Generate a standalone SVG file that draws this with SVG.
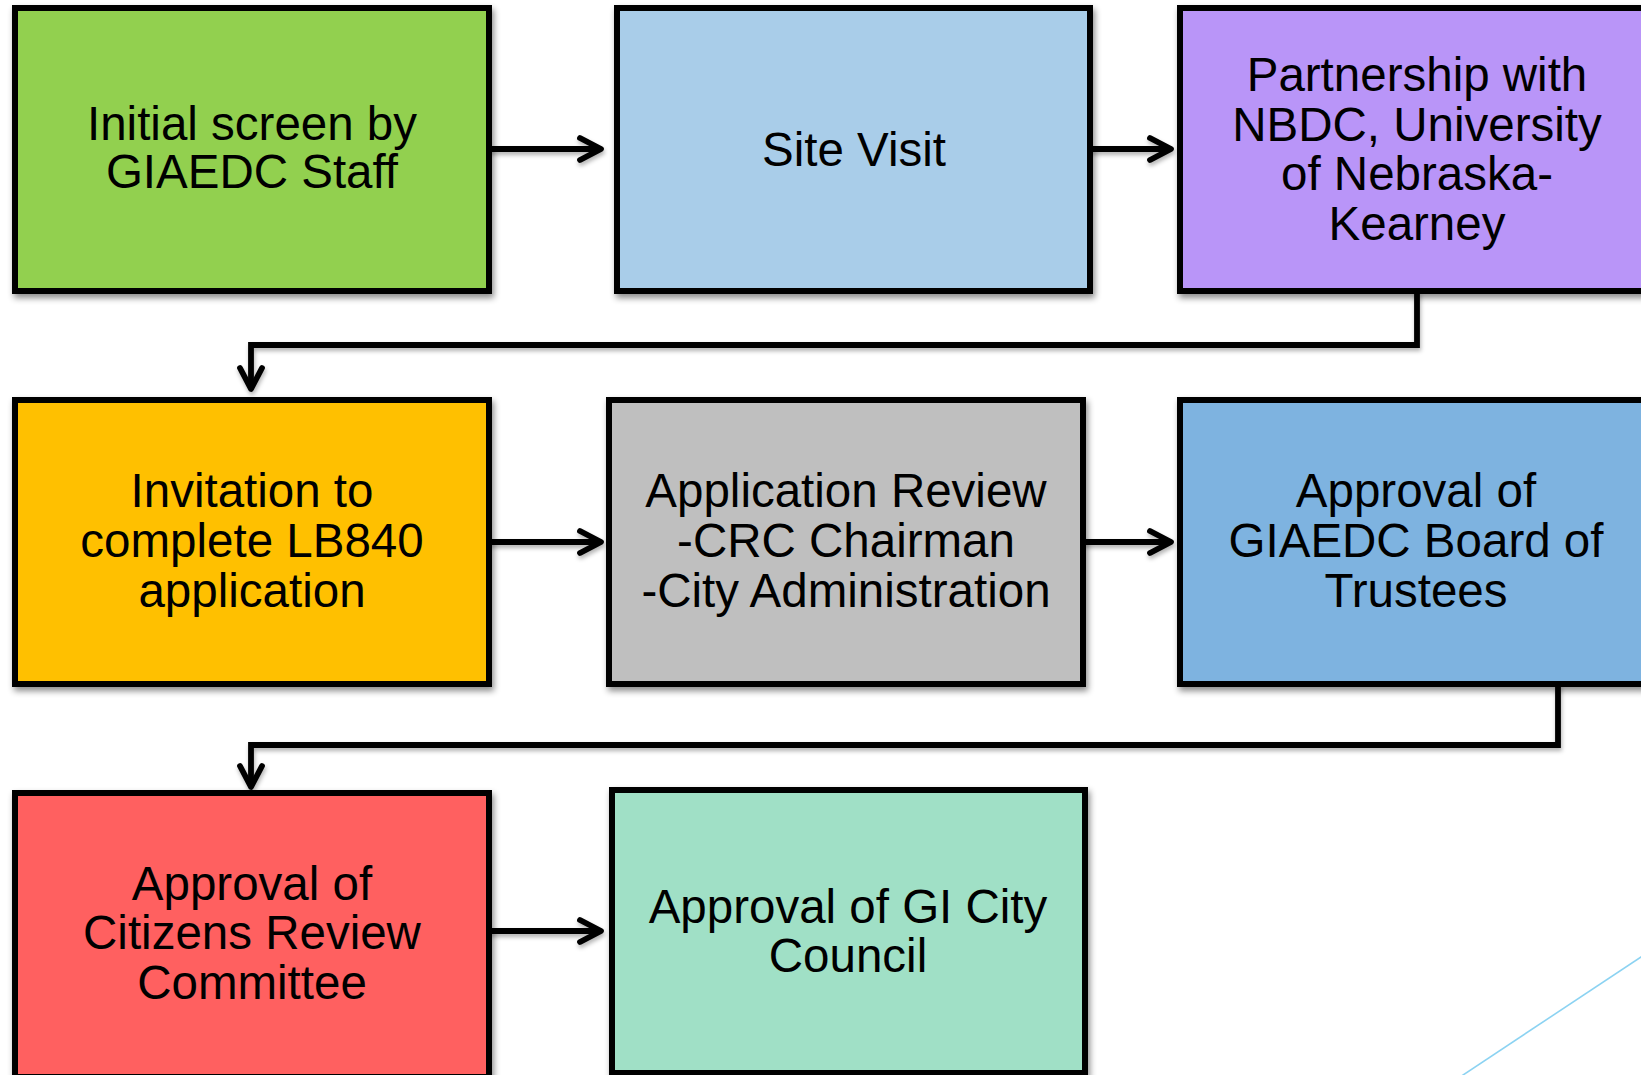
<svg xmlns="http://www.w3.org/2000/svg" width="1641" height="1075" viewBox="0 0 1641 1075">
<defs>
<filter id="shadow" x="-10%" y="-10%" width="120%" height="130%">
<feDropShadow dx="2" dy="4" stdDeviation="3" flood-color="#000" flood-opacity="0.45"/>
</filter>
<filter id="lshadow" x="-5%" y="-20%" width="110%" height="140%">
<feDropShadow dx="1" dy="3" stdDeviation="2" flood-color="#000" flood-opacity="0.3"/>
</filter>
<marker id="arrow" markerUnits="userSpaceOnUse" markerWidth="34" markerHeight="34" viewBox="-28 -17 34 34" refX="0" refY="0" orient="auto" overflow="visible">
<path d="M-21,-11 L0,0 L-21,11" fill="none" stroke="#000" stroke-width="5.8" stroke-linecap="round" stroke-linejoin="round"/>
</marker>
</defs>
<style>
.box{stroke:#000;stroke-width:6;filter:url(#shadow)}
.conn{fill:none;stroke:#000;stroke-width:5.8;stroke-linejoin:miter;marker-end:url(#arrow)}
.lbl{font-family:"Liberation Sans",Arial,sans-serif;font-size:47.5px;fill:#000;text-anchor:middle}
</style>
<rect x="0" y="0" width="1641" height="1075" fill="#fff"/>
<line x1="1665" y1="941" x2="1445" y2="1087" stroke="#8CD3F2" stroke-width="1.6"/>
<g id="connectors" filter="url(#lshadow)">
<path class="conn" d="M489,149 H601"/>
<path class="conn" d="M1090,149 H1171"/>
<path class="conn" d="M1417,291 V345 H251 V389"/>
<path class="conn" d="M489,542 H601"/>
<path class="conn" d="M1083,542 H1171"/>
<path class="conn" d="M1558,684 V745 H251 V787"/>
<path class="conn" d="M489,931 H601"/>
</g>
<g id="n1">
<rect class="box" x="15" y="8" width="474" height="283" fill="#92D050"/>
<text class="lbl"><tspan x="252" y="140">Initial screen by</tspan><tspan x="252" y="188">GIAEDC Staff</tspan></text>
</g>
<g id="n2">
<rect class="box" x="617" y="8" width="473" height="283" fill="#A9CDE9"/>
<text class="lbl"><tspan x="854" y="166">Site Visit</tspan></text>
</g>
<g id="n3">
<rect class="box" x="1180" y="8" width="474" height="283" fill="#B995F8"/>
<text class="lbl"><tspan x="1417" y="91">Partnership with</tspan><tspan x="1417" y="140.5">NBDC, University</tspan><tspan x="1417" y="190">of Nebraska-</tspan><tspan x="1417" y="239.5">Kearney</tspan></text>
</g>
<g id="n4">
<rect class="box" x="15" y="400" width="474" height="284" fill="#FFC000"/>
<text class="lbl"><tspan x="252" y="507">Invitation to</tspan><tspan x="252" y="557">complete LB840</tspan><tspan x="252" y="607">application</tspan></text>
</g>
<g id="n5">
<rect class="box" x="609" y="400" width="474" height="284" fill="#BFBFBF"/>
<text class="lbl"><tspan x="846" y="507">Application Review</tspan><tspan x="846" y="557">-CRC Chairman</tspan><tspan x="846" y="607">-City Administration</tspan></text>
</g>
<g id="n6">
<rect class="box" x="1180" y="400" width="474" height="284" fill="#7EB3E0"/>
<text class="lbl"><tspan x="1416" y="507">Approval of</tspan><tspan x="1416" y="557">GIAEDC Board of</tspan><tspan x="1416" y="607">Trustees</tspan></text>
</g>
<g id="n7">
<rect class="box" x="15" y="793" width="474" height="284" fill="#FF6161"/>
<text class="lbl"><tspan x="252" y="900">Approval of</tspan><tspan x="252" y="949">Citizens Review</tspan><tspan x="252" y="999">Committee</tspan></text>
</g>
<g id="n8">
<rect class="box" x="612" y="790" width="473" height="283" fill="#A0E0C6"/>
<text class="lbl"><tspan x="848" y="923">Approval of GI City</tspan><tspan x="848" y="972">Council</tspan></text>
</g>
</svg>
